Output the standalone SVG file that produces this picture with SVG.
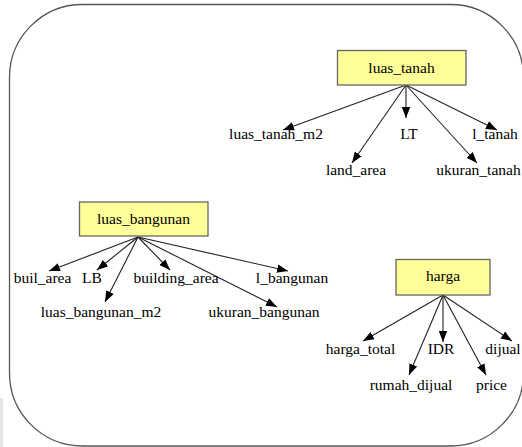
<svg xmlns="http://www.w3.org/2000/svg" width="522" height="447" viewBox="0 0 522 447">
  <style>
    .frame { fill: #ffffff; stroke: #555555; stroke-width: 1.3; }
    .box { fill: #ffff99; stroke: #666666; stroke-width: 1.3; }
    .lbl { font-family: 'Liberation Serif', 'DejaVu Serif', 'Times New Roman', serif; font-size: 15.5px; fill: #000000; text-anchor: middle; }
    .edge { stroke: #222222; stroke-width: 1.1; fill: none; marker-end: url(#arrow); }
  </style>
  <defs>
    <marker id="arrow" markerUnits="userSpaceOnUse" markerWidth="12" markerHeight="10" viewBox="0 0 12 10" refX="11" refY="5" orient="auto">
      <path d="M0,0.8 L11,5 L0,9.2 Z" fill="#000000"/>
    </marker>
  </defs>

  <rect x="0" y="0" width="522" height="447" fill="#ffffff"/>
  <rect x="0" y="398" width="3" height="49" fill="#e6e6e6"/>

  <!-- outer frame -->
  <rect class="frame" x="9.5" y="4.5" width="514" height="441.5" rx="73" ry="73"/>

  <!-- connectors -->
  <g id="connectors">
    <line class="edge" x1="406" y1="85" x2="283" y2="130"/>
    <line class="edge" x1="406" y1="85" x2="406" y2="118"/>
    <line class="edge" x1="406" y1="85" x2="497" y2="130"/>
    <line class="edge" x1="406" y1="85" x2="352" y2="163"/>
    <line class="edge" x1="406" y1="85" x2="477" y2="163"/>

    <line class="edge" x1="138" y1="237" x2="49" y2="271"/>
    <line class="edge" x1="138" y1="237" x2="97" y2="270"/>
    <line class="edge" x1="138" y1="237" x2="105" y2="302"/>
    <line class="edge" x1="138" y1="237" x2="170" y2="270"/>
    <line class="edge" x1="138" y1="237" x2="288" y2="271"/>
    <line class="edge" x1="138" y1="237" x2="277" y2="307"/>

    <line class="edge" x1="443" y1="295" x2="363" y2="341"/>
    <line class="edge" x1="443" y1="295" x2="443" y2="342"/>
    <line class="edge" x1="443" y1="295" x2="512" y2="341"/>
    <line class="edge" x1="443" y1="295" x2="409" y2="375"/>
    <line class="edge" x1="443" y1="295" x2="486" y2="375"/>
  </g>

  <!-- luas_tanah -->
  <g id="luas_tanah">
    <rect class="box" x="337.5" y="50.5" width="128.5" height="34.5"/>
    <text class="lbl" x="401.5" y="73">luas_tanah</text>
  </g>
  <g id="luas_tanah_m2"><text class="lbl" x="276" y="139">luas_tanah_m2</text></g>
  <g id="LT"><text class="lbl" x="409" y="139">LT</text></g>
  <g id="l_tanah"><text class="lbl" x="495" y="139">l_tanah</text></g>
  <g id="land_area"><text class="lbl" x="356" y="175">land_area</text></g>
  <g id="ukuran_tanah"><text class="lbl" x="478.5" y="175">ukuran_tanah</text></g>

  <!-- luas_bangunan -->
  <g id="luas_bangunan">
    <rect class="box" x="79.5" y="202" width="128.5" height="34"/>
    <text class="lbl" x="143.5" y="224">luas_bangunan</text>
  </g>
  <g id="buil_area"><text class="lbl" x="42.5" y="283">buil_area</text></g>
  <g id="LB"><text class="lbl" x="92" y="283">LB</text></g>
  <g id="building_area"><text class="lbl" x="176" y="283">building_area</text></g>
  <g id="l_bangunan"><text class="lbl" x="292" y="283">l_bangunan</text></g>
  <g id="luas_bangunan_m2"><text class="lbl" x="101" y="317">luas_bangunan_m2</text></g>
  <g id="ukuran_bangunan"><text class="lbl" x="264" y="317">ukuran_bangunan</text></g>

  <!-- harga -->
  <g id="harga">
    <rect class="box" x="396" y="259.5" width="94" height="35.5"/>
    <text class="lbl" x="443" y="281">harga</text>
  </g>
  <g id="harga_total"><text class="lbl" x="360.5" y="354">harga_total</text></g>
  <g id="IDR"><text class="lbl" x="441" y="354">IDR</text></g>
  <g id="dijual"><text class="lbl" x="503" y="354">dijual</text></g>
  <g id="rumah_dijual"><text class="lbl" x="411" y="390">rumah_dijual</text></g>
  <g id="price"><text class="lbl" x="491.5" y="390">price</text></g>
</svg>
